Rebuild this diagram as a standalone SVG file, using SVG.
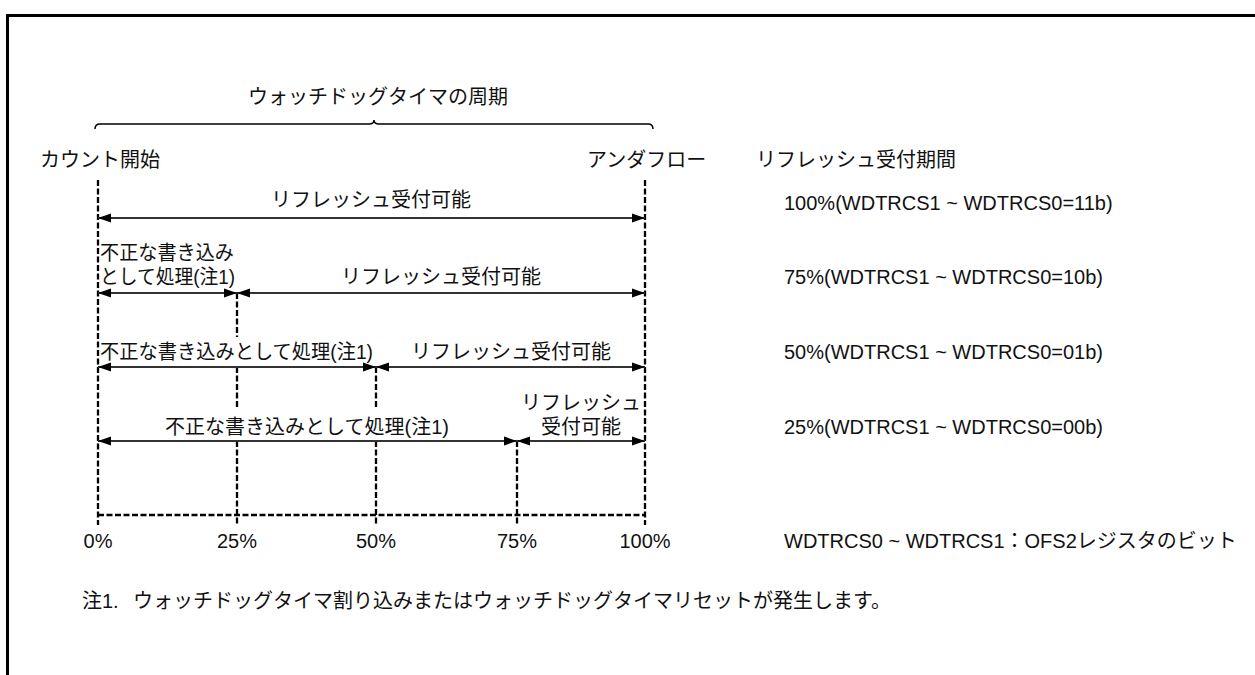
<svg xmlns="http://www.w3.org/2000/svg" width="1255" height="675" viewBox="0 0 1255 675">
<style>
text{font-family:"Liberation Sans","Noto Sans CJK JP",sans-serif;font-size:20px;fill:#111}
.m{text-anchor:middle}
.dash{stroke:#000;stroke-width:2.3;stroke-dasharray:6 2.5;fill:none}
.arr{stroke:#333;stroke-width:2;fill:none;marker-start:url(#ah);marker-end:url(#ah)}
</style>
<defs>
<marker id="ah" viewBox="0 0 13 10" refX="13" refY="5" markerWidth="13" markerHeight="10" markerUnits="userSpaceOnUse" orient="auto-start-reverse">
<path d="M0,0.5 L13,5 L0,9.5 Z" fill="#000"/>
</marker>
</defs>
<rect width="1255" height="675" fill="#fff"/>
<path d="M7.5,675 V15.5 H1255" stroke="#000" stroke-width="3" fill="none"/>

<g id="title">
<text class="m" x="378" y="104">ウォッチドッグタイマの周期</text>
<path d="M95,129 Q95,124 100,124 L369,124 Q374,124 374,120 Q374,124 379,124 L648,124 Q653,124 653,129" stroke="#000" stroke-width="1.5" fill="none"/>
</g>

<g id="headers">
<text x="40" y="167">カウント開始</text>
<text x="587" y="167">アンダフロー</text>
<text x="756" y="167">リフレッシュ受付期間</text>
</g>

<g id="gridlines">
<path class="dash" d="M98,180 V525 M645,180 V525 M237,293 V337 M237,367 V408 M237,441 V525 M376,367 V408 M376,441 V525 M517,441 V525 M98,515 H645"/>
</g>

<g id="connectors">
<path class="arr" d="M98,218 H645"/>
<path class="arr" d="M98,293 H237"/>
<path class="arr" d="M237,293 H645"/>
<path class="arr" d="M98,367 H376"/>
<path class="arr" d="M376,367 H645"/>
<path class="arr" d="M98,441 H517"/>
<path class="arr" d="M517,441 H645"/>
</g>

<g id="row100">
<text class="m" x="371" y="207">リフレッシュ受付可能</text>
<text x="784" y="210">100%(WDTRCS1 ~ WDTRCS0=11b)</text>
</g>
<g id="row75">
<text x="100" y="260" textLength="134" lengthAdjust="spacingAndGlyphs">不正な書き込み</text>
<text x="100" y="284" textLength="135" lengthAdjust="spacingAndGlyphs">として処理(注1)</text>
<text class="m" x="441" y="284">リフレッシュ受付可能</text>
<text x="784" y="284">75%(WDTRCS1 ~ WDTRCS0=10b)</text>
</g>
<g id="row50">
<text x="100" y="359" textLength="273" lengthAdjust="spacingAndGlyphs">不正な書き込みとして処理(注1)</text>
<text class="m" x="511" y="359">リフレッシュ受付可能</text>
<text x="784" y="359">50%(WDTRCS1 ~ WDTRCS0=01b)</text>
</g>
<g id="row25">
<text class="m" x="307" y="434">不正な書き込みとして処理(注1)</text>
<text class="m" x="581" y="410">リフレッシュ</text>
<text class="m" x="581" y="434">受付可能</text>
<text x="784" y="434">25%(WDTRCS1 ~ WDTRCS0=00b)</text>
</g>

<g id="scale">
<text class="m" x="98" y="548">0%</text>
<text class="m" x="237" y="548">25%</text>
<text class="m" x="376" y="548">50%</text>
<text class="m" x="517" y="548">75%</text>
<text class="m" x="645" y="548">100%</text>
<text x="784" y="548">WDTRCS0 ~ WDTRCS1：OFS2レジスタのビット</text>
</g>

<g id="note">
<text x="82" y="608">注1.</text>
<text x="133" y="608">ウォッチドッグタイマ割り込みまたはウォッチドッグタイマリセットが発生します。</text>
</g>
</svg>
